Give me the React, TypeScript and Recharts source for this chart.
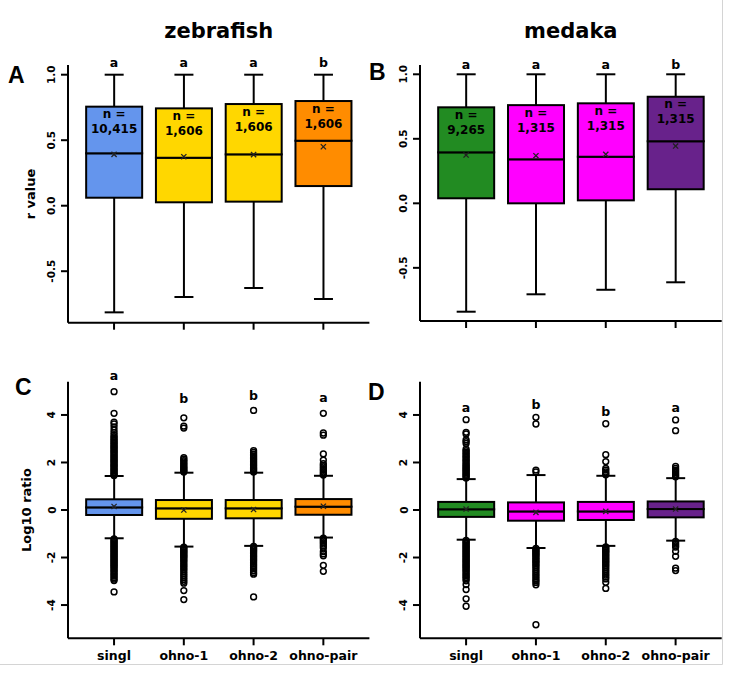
import React from 'react';
import { ComposedChart, Bar, Scatter, XAxis, YAxis } from 'recharts';

const FONT = '"DejaVu Sans", Verdana, sans-serif';

// ---------- shared ----------
const categories = ['singl', 'ohno-1', 'ohno-2', 'ohno-pair'];
const positions = [1, 2, 3, 4];
const zebrafishColors = ['#6495ED', '#FFD700', '#FFD700', '#FF8C00'];
const medakaColors = ['#228B22', '#FF00FF', '#FF00FF', '#68228B'];
const rTicks = [-0.5, 0, 0.5, 1];
const logTicks = [-4, -2, 0, 2, 4];

// ---------- A: zebrafish r value ----------
const aLow = [-0.814, -0.697, -0.628, -0.712];
const aQ1 = [0.061, 0.026, 0.031, 0.15];
const aMedian = [0.4, 0.366, 0.392, 0.496];
const aQ3 = [0.756, 0.743, 0.776, 0.799];
const aHigh = [1, 1, 1, 1];
const aMean = [0.392, 0.374, 0.39, 0.45];
const aN = ['10,415', '1,606', '1,606', '1,606'];
const aLetters = ['a', 'a', 'a', 'b'];
const aLetterY = [0.98, 0.98, 0.98, 0.98];

// ---------- B: medaka r value ----------
const bLow = [-0.84, -0.705, -0.67, -0.612];
const bQ1 = [0.039, 0.0, 0.023, 0.109];
const bMedian = [0.395, 0.341, 0.361, 0.481];
const bQ3 = [0.744, 0.761, 0.775, 0.826];
const bHigh = [1, 1, 1, 1];
const bMean = [0.374, 0.369, 0.38, 0.444];
const bN = ['9,265', '1,315', '1,315', '1,315'];
const bLetters = ['a', 'a', 'a', 'b'];
const bLetterY = [0.961, 0.961, 0.961, 0.961];

// ---------- C: zebrafish Log10 ratio ----------
const cLow = [-1.19, -1.54, -1.51, -1.16];
const cQ1 = [-0.21, -0.37, -0.35, -0.2];
const cMedian = [0.11, 0.07, 0.07, 0.14];
const cQ3 = [0.45, 0.42, 0.42, 0.46];
const cHigh = [1.43, 1.57, 1.57, 1.44];
const cMean = [0.15, 0.0, 0.02, 0.16];
const cLetters = ['a', 'b', 'b', 'a'];
const cLetterY = [5.05, 4.09, 4.21, 4.14];
const cOutliers = [
  [1.45, 1.5, 1.55, 1.6, 1.66, 1.71, 1.76, 1.82, 1.87, 1.92, 1.98, 2.03, 2.08, 2.14, 2.19, 2.24, 2.3, 2.35, 2.41, 2.46, 2.52, 2.57, 2.63, 2.68, 2.74, 2.8, 2.85, 2.91, 2.97, 3.03, 3.09, 3.17, 3.26, 3.37, 3.5, 3.62, 3.7, 4.07, 4.98,
    -1.22, -1.27, -1.32, -1.37, -1.42, -1.47, -1.52, -1.57, -1.62, -1.67, -1.72, -1.77, -1.82, -1.87, -1.92, -1.97, -2.02, -2.07, -2.12, -2.17, -2.22, -2.27, -2.32, -2.37, -2.42, -2.48, -2.54, -2.6, -2.66, -2.72, -2.78, -2.85, -2.91, -2.97, -3.45],
  [1.6, 1.64, 1.69, 1.74, 1.79, 1.84, 1.9, 1.96, 2.02, 2.08, 2.14, 2.2, 3.45, 3.53, 3.88,
    -1.56, -1.6, -1.65, -1.7, -1.75, -1.8, -1.85, -1.9, -1.95, -2.0, -2.06, -2.12, -2.18, -2.25, -2.32, -2.38, -2.45, -2.52, -2.6, -2.68, -2.76, -2.84, -2.92, -3.0, -3.08, -3.39, -3.77],
  [1.6, 1.65, 1.7, 1.75, 1.8, 1.86, 1.92, 1.98, 2.04, 2.1, 2.16, 2.22, 2.28, 2.35, 2.42, 2.5, 4.19,
    -1.53, -1.58, -1.63, -1.68, -1.73, -1.78, -1.84, -1.9, -1.96, -2.02, -2.08, -2.14, -2.2, -2.27, -2.34, -2.41, -2.48, -2.56, -2.64, -2.7, -3.66],
  [1.47, 1.53, 1.6, 1.67, 1.74, 1.81, 1.88, 1.95, 2.1, 2.36, 3.15, 3.24, 4.07,
    -1.18, -1.24, -1.3, -1.37, -1.44, -1.52, -1.6, -1.75, -1.85, -1.93, -2.33, -2.58],
];

// ---------- D: medaka Log10 ratio ----------
const dLow = [-1.25, -1.6, -1.51, -1.29];
const dQ1 = [-0.29, -0.45, -0.42, -0.31];
const dMedian = [0.03, -0.06, -0.06, 0.04];
const dQ3 = [0.34, 0.32, 0.34, 0.36];
const dHigh = [1.3, 1.47, 1.44, 1.34];
const dMean = [0.04, -0.1, -0.06, 0.04];
const dLetters = ['a', 'b', 'b', 'a'];
const dLetterY = [3.72, 3.82, 3.55, 3.72];
const dOutliers = [
  [1.35, 1.4, 1.45, 1.5, 1.55, 1.6, 1.65, 1.7, 1.75, 1.8, 1.85, 1.9, 1.96, 2.02, 2.08, 2.14, 2.2, 2.26, 2.32, 2.38, 2.44, 2.5, 2.56, 2.8, 2.88, 2.95, 3.2, 3.27, 3.8,
    -1.28, -1.33, -1.38, -1.43, -1.48, -1.53, -1.58, -1.63, -1.68, -1.73, -1.78, -1.83, -1.88, -1.93, -1.98, -2.03, -2.08, -2.13, -2.18, -2.23, -2.28, -2.33, -2.38, -2.43, -2.48, -2.54, -2.6, -2.66, -2.72, -2.78, -2.84, -2.9, -2.98, -3.14, -3.35, -3.74, -4.05],
  [1.6, 1.68, 3.62, 3.9,
    -1.62, -1.67, -1.72, -1.77, -1.82, -1.87, -1.92, -1.98, -2.04, -2.1, -2.16, -2.22, -2.28, -2.35, -2.42, -2.5, -2.58, -2.66, -2.74, -2.82, -2.9, -2.98, -3.05, -3.15, -4.83],
  [1.48, 1.54, 1.6, 1.68, 1.75, 2.04, 2.33, 3.63,
    -1.55, -1.6, -1.65, -1.7, -1.75, -1.8, -1.86, -1.92, -1.98, -2.04, -2.1, -2.16, -2.22, -2.28, -2.35, -2.42, -2.5, -2.58, -2.66, -2.74, -2.82, -2.9, -3.04, -3.3],
  [1.4, 1.45, 1.5, 1.56, 1.62, 1.68, 1.75, 1.83, 3.34, 3.79,
    -1.32, -1.38, -1.44, -1.5, -1.56, -1.74, -1.95, -2.45, -2.55],
];

// ---------- shapes ----------
const WhiskerShape = (props: any) => {
  const { x, y, width, height } = props;
  const cx = x + width / 2;
  const top = Math.min(y, y + height);
  const bottom = Math.max(y, y + height);
  return (
    <g stroke="#000" strokeWidth={2}>
      <line x1={cx} x2={cx} y1={top} y2={bottom} />
      <line x1={cx - 9.5} x2={cx + 9.5} y1={top} y2={top} />
      <line x1={cx - 9.5} x2={cx + 9.5} y1={bottom} y2={bottom} />
    </g>
  );
};

const BoxShape = (props: any) => {
  const { x, y, width, height, payload } = props;
  const top = Math.min(y, y + height);
  const h = Math.abs(height);
  return <rect x={x} y={top} width={width} height={h} fill={payload?.color ?? props.fill} stroke="#000" strokeWidth={2} />;
};

const UpperBoxShape = (props: any) => {
  const { x, y, width, height, payload } = props;
  const top = Math.min(y, y + height);
  const h = Math.abs(height);
  const cx = x + width / 2;
  return (
    <g>
      <rect x={x} y={top} width={width} height={h} fill={payload?.color ?? props.fill} stroke="#000" strokeWidth={2} />
      {payload?.n ? (
        <g fontFamily={FONT} fontWeight="bold" fontSize={12} fill="#000" textAnchor="middle">
          <text x={cx} y={top + 11.5}>n =</text>
          <text x={cx} y={top + 26.5}>{payload.n}</text>
        </g>
      ) : null}
    </g>
  );
};

const MeanShape = (props: any) => {
  const { cx, cy } = props;
  return (
    <g stroke="#222" strokeWidth={1.3}>
      <line x1={cx - 2.6} y1={cy - 2.6} x2={cx + 2.6} y2={cy + 2.6} />
      <line x1={cx - 2.6} y1={cy + 2.6} x2={cx + 2.6} y2={cy - 2.6} />
    </g>
  );
};

const OutlierShape = (props: any) => {
  const { cx, cy } = props;
  return <circle cx={cx} cy={cy} r={2.9} fill="none" stroke="#000" strokeWidth={1.5} />;
};

const LetterShape = (props: any) => {
  const { cx, cy, payload } = props;
  return (
    <text x={cx} y={cy - 10} textAnchor="middle" fontFamily={FONT} fontWeight="bold" fontSize={12.5} fill="#000">
      {payload.letter}
    </text>
  );
};

// ---------- panel ----------
type PanelProps = {
  left: number; top: number; width: number; height: number;
  margin: { top: number; right: number; bottom: number; left: number };
  xAxisHeight: number;
  yDomain: [number, number]; yTicks: number[]; yFmt: (v: number) => string;
  low: number[]; q1: number[]; median: number[]; q3: number[]; high: number[]; mean: number[];
  colors: string[]; nLabels?: string[]; letters: string[]; letterY: number[];
  outliers?: number[][]; showXLabels: boolean;
};

function BoxPanel(p: PanelProps) {
  const rows = positions.map((pos, i) => ({
    pos,
    whisker: [p.low[i], p.high[i]],
    lowerBox: [p.q1[i], p.median[i]],
    upperBox: [p.median[i], p.q3[i]],
    color: p.colors[i],
    n: p.nLabels ? p.nLabels[i] : undefined,
  }));
  const meanRows = positions.map((pos, i) => ({ pos, v: p.mean[i] }));
  const letterRows = positions.map((pos, i) => ({ pos, v: p.letterY[i], letter: p.letters[i] }));
  const outlierRows = (p.outliers || []).flatMap((vals, i) => vals.map((v) => ({ pos: positions[i], v })));
  const axisStyle = { stroke: '#000', strokeWidth: 2 };
  const xDomain: [number, number] = [0.34, 4.66];

  return (
    <div style={{ position: 'absolute', left: p.left, top: p.top, width: p.width, height: p.height }}>
      <ComposedChart width={p.width} height={p.height} data={rows} margin={p.margin} style={{ overflow: 'visible' }}>
        <XAxis
          xAxisId="main" type="number" dataKey="pos" domain={xDomain} ticks={positions}
          orientation="bottom" height={p.xAxisHeight} tickSize={7} tickMargin={2}
          axisLine={axisStyle} tickLine={axisStyle}
          tick={(t: any) =>
            p.showXLabels ? (
              <text x={t.x} y={t.y} dy={12.3} textAnchor="middle" fontFamily={FONT} fontWeight="bold" fontSize={12.5} fill="#000">
                {categories[positions.indexOf(t.payload.value)]}
              </text>
            ) : (
              <g />
            )
          }
        />
        <XAxis xAxisId="b" type="number" dataKey="pos" domain={xDomain} orientation="top" height={0} hide />
        <XAxis xAxisId="c" type="number" dataKey="pos" domain={xDomain} orientation="top" height={0} hide />
        <YAxis
          type="number" domain={p.yDomain} ticks={p.yTicks} width={68} tickSize={7} tickMargin={5.5}
          axisLine={axisStyle} tickLine={axisStyle}
          tick={(t: any) => (
            <text x={t.x} y={t.y} transform={`rotate(-90 ${t.x} ${t.y})`} textAnchor="middle" fontFamily={FONT} fontWeight="bold" fontSize={10.5} fill="#000">
              {p.yFmt(t.payload.value)}
            </text>
          )}
        />
        <Bar xAxisId="main" dataKey="whisker" barSize={56} shape={WhiskerShape} isAnimationActive={false} />
        <Bar xAxisId="b" dataKey="lowerBox" barSize={56} shape={BoxShape} isAnimationActive={false} />
        <Bar xAxisId="c" dataKey="upperBox" barSize={56} shape={UpperBoxShape} isAnimationActive={false} />
        {outlierRows.length > 0 ? (
          <Scatter xAxisId="main" data={outlierRows} dataKey="v" shape={OutlierShape} isAnimationActive={false} />
        ) : null}
        <Scatter xAxisId="main" data={meanRows} dataKey="v" shape={MeanShape} isAnimationActive={false} />
        <Scatter xAxisId="main" data={letterRows} dataKey="v" shape={LetterShape} isAnimationActive={false} />
      </ComposedChart>
    </div>
  );
}

const fmtR = (v: number) => v.toFixed(1);
const fmtLog = (v: number) => String(v);

export default function App() {
  return (
    <div style={{ position: 'absolute', left: 0, top: 0, width: 732, height: 675, background: '#fff', overflow: 'hidden' }}>
      <svg width={732} height={675} style={{ position: 'absolute', left: 0, top: 0 }}>
        <line x1={722.5} y1={0} x2={722.5} y2={664.5} stroke="#d4d4d4" strokeWidth={1} />
        <line x1={0} y1={664.5} x2={722.5} y2={664.5} stroke="#d4d4d4" strokeWidth={1} />
        <g fontFamily={FONT} fontWeight="bold" fill="#000">
          <text x={218.7} y={38} fontSize={21} textAnchor="middle">zebrafish</text>
          <text x={570.8} y={38} fontSize={21} textAnchor="middle">medaka</text>
          <text x={35} y={194} fontSize={13} textAnchor="middle" transform="rotate(-90 35 194)">r value</text>
          <text x={30.5} y={510} fontSize={13} textAnchor="middle" transform="rotate(-90 30.5 510)">Log10 ratio</text>
        </g>
        <g fontFamily='"Liberation Sans", Arial, sans-serif' fontWeight="bold" fontSize={23} fill="#000">
          <text x={8} y={83}>A</text>
          <text x={369} y={80}>B</text>
          <text x={15} y={395}>C</text>
          <text x={368} y={399.5}>D</text>
        </g>
      </svg>
      <BoxPanel
        left={0} top={0} width={372} height={345}
        margin={{ top: 65, right: 2.6, bottom: 2.3, left: 0 }} xAxisHeight={20}
        yDomain={[-0.893, 1.074]} yTicks={rTicks} yFmt={fmtR}
        low={aLow} q1={aQ1} median={aMedian} q3={aQ3} high={aHigh} mean={aMean}
        colors={zebrafishColors} nLabels={aN} letters={aLetters} letterY={aLetterY} showXLabels={false}
      />
      <BoxPanel
        left={352} top={0} width={372} height={345}
        margin={{ top: 65, right: 2.3, bottom: 4, left: 0 }} xAxisHeight={20}
        yDomain={[-0.912, 1.072]} yTicks={rTicks} yFmt={fmtR}
        low={bLow} q1={bQ1} median={bMedian} q3={bQ3} high={bHigh} mean={bMean}
        colors={medakaColors} nLabels={bN} letters={bLetters} letterY={bLetterY} showXLabels={false}
      />
      <BoxPanel
        left={0} top={340} width={372} height={335}
        margin={{ top: 41.7, right: 2.6, bottom: 6.7, left: 0 }} xAxisHeight={30}
        yDomain={[-5.4, 5.4]} yTicks={logTicks} yFmt={fmtLog}
        low={cLow} q1={cQ1} median={cMedian} q3={cQ3} high={cHigh} mean={cMean}
        colors={zebrafishColors} letters={cLetters} letterY={cLetterY} outliers={cOutliers} showXLabels={true}
      />
      <BoxPanel
        left={352} top={340} width={372} height={335}
        margin={{ top: 41.7, right: 2.3, bottom: 6.7, left: 0 }} xAxisHeight={30}
        yDomain={[-5.4, 5.4]} yTicks={logTicks} yFmt={fmtLog}
        low={dLow} q1={dQ1} median={dMedian} q3={dQ3} high={dHigh} mean={dMean}
        colors={medakaColors} letters={dLetters} letterY={dLetterY} outliers={dOutliers} showXLabels={true}
      />
    </div>
  );
}
